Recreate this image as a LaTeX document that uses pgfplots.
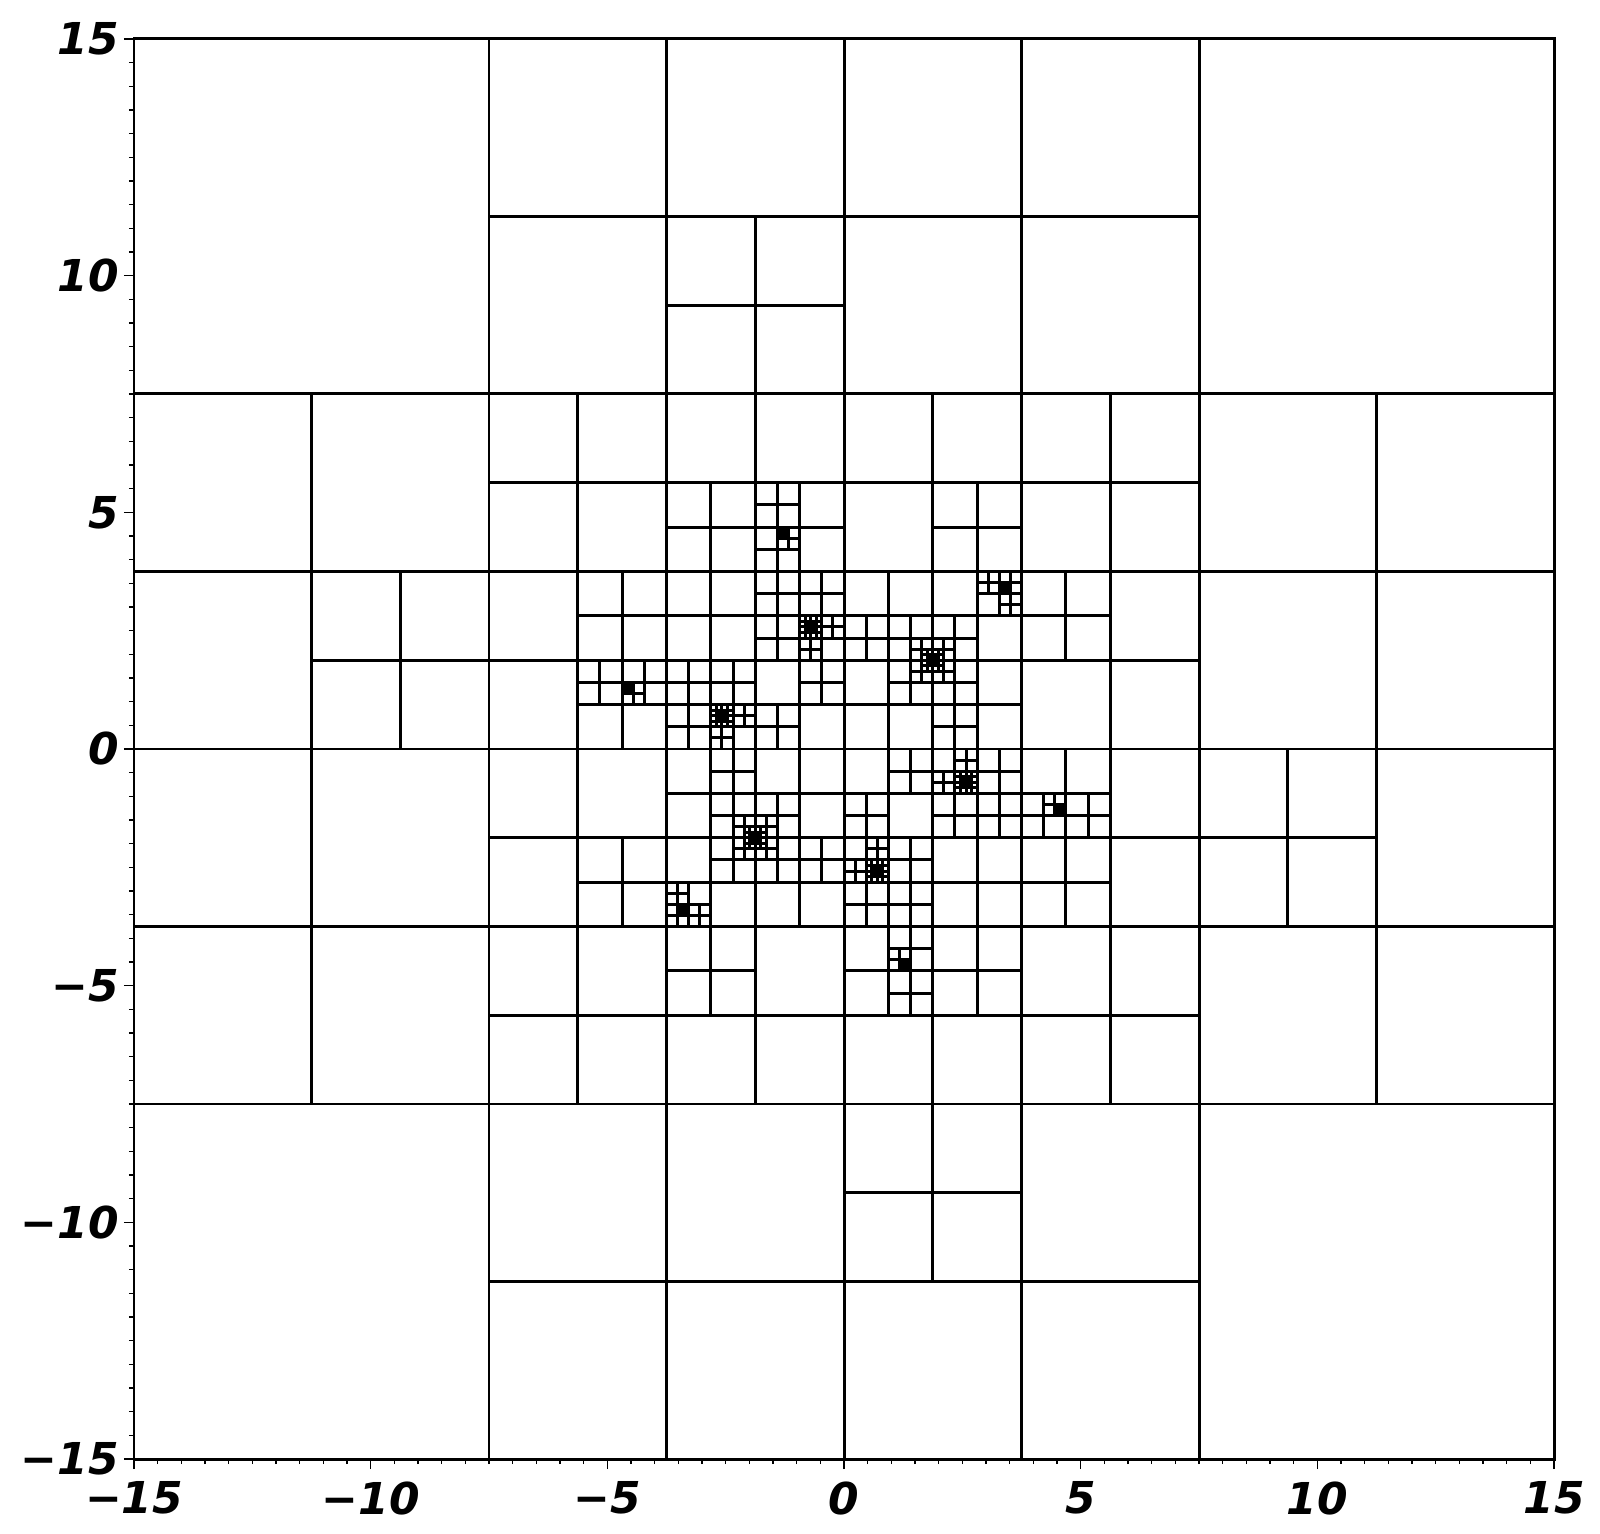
\documentclass[border=0pt]{standalone}
\usepackage{fontspec}
\setmainfont{DejaVu Sans}
\usepackage{pgfplots}
\pgfplotsset{compat=1.18}

% each row is one refined cell: centre (x,y) and half size h, drawn as a cross
\pgfplotsset{cell/.style={draw=none, no markers,
  error bars/.cd, x dir=both, x explicit, y dir=both, y explicit,
  error mark=none, error bar style={draw=black, solid, line width=0.85pt}}}

\begin{document}
\begin{tikzpicture}
\begin{axis}[
  scale only axis,
  width=142mm, height=142mm,
  xmin=-15, xmax=15, ymin=-15, ymax=15,
  xtick={-15,-10,-5,0,5,10,15},
  ytick={-15,-10,-5,0,5,10,15},
  xticklabels={−15,−10,−5,0,5,10,15},
  yticklabels={−15,−10,−5,0,5,10,15},
  minor x tick num=9, minor y tick num=9,
  xtick pos=left, ytick pos=left,
  tick align=outside,
  major tick length=1mm, minor tick length=0.5mm,
  tick style={black, line width=0.4pt},
  axis line style={line width=0.85pt},
  every axis plot/.append style={line width=0.85pt},
  tick label style={font=\fontsize{12.5}{15}\selectfont\bfseries\itshape},
  yticklabel style={xshift=0.7mm},
]

% coarse levels
\addplot[cell] table[x=x, y=y, x error=h, y error=h] {
x y h
0 0 15
-7.5 7.5 7.5
7.5 7.5 7.5
7.5 -7.5 7.5
-7.5 -7.5 7.5
-3.75 11.25 3.75
-11.25 3.75 3.75
-3.75 3.75 3.75
3.75 11.25 3.75
11.25 3.75 3.75
3.75 3.75 3.75
3.75 -11.25 3.75
11.25 -3.75 3.75
3.75 -3.75 3.75
-3.75 -11.25 3.75
-11.25 -3.75 3.75
-3.75 -3.75 3.75
-1.875 9.375 1.875
-9.375 1.875 1.875
1.875 -9.375 1.875
9.375 -1.875 1.875
-1.875 1.875 1.875
-1.875 5.625 1.875
-5.625 1.875 1.875
-5.625 5.625 1.875
1.875 1.875 1.875
1.875 5.625 1.875
5.625 1.875 1.875
5.625 5.625 1.875
1.875 -1.875 1.875
1.875 -5.625 1.875
5.625 -1.875 1.875
5.625 -5.625 1.875
-1.875 -1.875 1.875
-1.875 -5.625 1.875
-5.625 -1.875 1.875
-5.625 -5.625 1.875
};

% 1.875 cells split
\addplot[cell] table[x=x, y=y, x error=h, y error=h] {
x y h
-2.8125 4.6875 0.9375
-0.9375 4.6875 0.9375
-4.6875 2.8125 0.9375
-2.8125 2.8125 0.9375
-0.9375 2.8125 0.9375
-4.6875 0.9375 0.9375
-2.8125 0.9375 0.9375
-0.9375 0.9375 0.9375
0.9375 2.8125 0.9375
2.8125 4.6875 0.9375
2.8125 2.8125 0.9375
4.6875 2.8125 0.9375
2.8125 0.9375 0.9375
0.9375 0.9375 0.9375
2.8125 -4.6875 0.9375
0.9375 -4.6875 0.9375
4.6875 -2.8125 0.9375
2.8125 -2.8125 0.9375
0.9375 -2.8125 0.9375
4.6875 -0.9375 0.9375
2.8125 -0.9375 0.9375
0.9375 -0.9375 0.9375
-0.9375 -2.8125 0.9375
-2.8125 -4.6875 0.9375
-2.8125 -2.8125 0.9375
-4.6875 -2.8125 0.9375
-2.8125 -0.9375 0.9375
-0.9375 -0.9375 0.9375
};

% 0.9375 cells split
\addplot[cell] table[x=x, y=y, x error=h, y error=h] {
x y h
-1.40625 5.15625 0.46875
-1.40625 4.21875 0.46875
-5.15625 1.40625 0.46875
-4.21875 1.40625 0.46875
-1.40625 3.28125 0.46875
-0.46875 3.28125 0.46875
-1.40625 2.34375 0.46875
-0.46875 2.34375 0.46875
-3.28125 1.40625 0.46875
-3.28125 0.46875 0.46875
-2.34375 1.40625 0.46875
-2.34375 0.46875 0.46875
-0.46875 1.40625 0.46875
-1.40625 0.46875 0.46875
0.46875 2.34375 0.46875
1.40625 2.34375 0.46875
2.34375 0.46875 0.46875
2.34375 1.40625 0.46875
3.28125 3.28125 0.46875
2.34375 2.34375 0.46875
1.40625 1.40625 0.46875
1.40625 -5.15625 0.46875
1.40625 -4.21875 0.46875
5.15625 -1.40625 0.46875
4.21875 -1.40625 0.46875
1.40625 -3.28125 0.46875
0.46875 -3.28125 0.46875
1.40625 -2.34375 0.46875
0.46875 -2.34375 0.46875
3.28125 -1.40625 0.46875
3.28125 -0.46875 0.46875
2.34375 -1.40625 0.46875
2.34375 -0.46875 0.46875
0.46875 -1.40625 0.46875
1.40625 -0.46875 0.46875
-0.46875 -2.34375 0.46875
-1.40625 -2.34375 0.46875
-2.34375 -0.46875 0.46875
-2.34375 -1.40625 0.46875
-3.28125 -3.28125 0.46875
-2.34375 -2.34375 0.46875
-1.40625 -1.40625 0.46875
};

% 0.46875 cells split
\addplot[cell] table[x=x, y=y, x error=h, y error=h] {
x y h
-1.171875 4.453125 0.234375
-4.453125 1.171875 0.234375
-0.703125 2.578125 0.234375
-0.234375 2.578125 0.234375
-0.703125 2.109375 0.234375
-2.578125 0.703125 0.234375
-2.578125 0.234375 0.234375
-2.109375 0.703125 0.234375
3.046875 3.515625 0.234375
3.515625 3.515625 0.234375
3.515625 3.046875 0.234375
2.109375 2.109375 0.234375
1.640625 2.109375 0.234375
2.109375 1.640625 0.234375
1.640625 1.640625 0.234375
1.171875 -4.453125 0.234375
4.453125 -1.171875 0.234375
0.703125 -2.578125 0.234375
0.234375 -2.578125 0.234375
0.703125 -2.109375 0.234375
2.578125 -0.703125 0.234375
2.578125 -0.234375 0.234375
2.109375 -0.703125 0.234375
-3.046875 -3.515625 0.234375
-3.515625 -3.515625 0.234375
-3.515625 -3.046875 0.234375
-2.109375 -2.109375 0.234375
-1.640625 -2.109375 0.234375
-2.109375 -1.640625 0.234375
-1.640625 -1.640625 0.234375
};

% finest cells round the twelve centres
\addplot[cell] table[x=x, y=y, x error=h, y error=h] {
x y h
-1.2890625 4.5703125 0.1171875
-4.5703125 1.2890625 0.1171875
-0.8203125 2.6953125 0.1171875
-0.5859375 2.6953125 0.1171875
-0.8203125 2.4609375 0.1171875
-0.5859375 2.4609375 0.1171875
-2.6953125 0.8203125 0.1171875
-2.6953125 0.5859375 0.1171875
-2.4609375 0.8203125 0.1171875
-2.4609375 0.5859375 0.1171875
3.3984375 3.3984375 0.1171875
1.7578125 1.7578125 0.1171875
1.9921875 1.7578125 0.1171875
1.7578125 1.9921875 0.1171875
1.9921875 1.9921875 0.1171875
1.2890625 -4.5703125 0.1171875
4.5703125 -1.2890625 0.1171875
0.8203125 -2.6953125 0.1171875
0.5859375 -2.6953125 0.1171875
0.8203125 -2.4609375 0.1171875
0.5859375 -2.4609375 0.1171875
2.6953125 -0.8203125 0.1171875
2.6953125 -0.5859375 0.1171875
2.4609375 -0.8203125 0.1171875
2.4609375 -0.5859375 0.1171875
-3.3984375 -3.3984375 0.1171875
-1.7578125 -1.7578125 0.1171875
-1.9921875 -1.7578125 0.1171875
-1.7578125 -1.9921875 0.1171875
-1.9921875 -1.9921875 0.1171875
-1.34765625 4.62890625 0.05859375
-1.23046875 4.62890625 0.05859375
-1.34765625 4.51171875 0.05859375
-1.23046875 4.51171875 0.05859375
-4.62890625 1.34765625 0.05859375
-4.62890625 1.23046875 0.05859375
-4.51171875 1.34765625 0.05859375
-4.51171875 1.23046875 0.05859375
-0.76171875 2.63671875 0.05859375
-0.64453125 2.63671875 0.05859375
-0.76171875 2.51953125 0.05859375
-0.64453125 2.51953125 0.05859375
-2.63671875 0.76171875 0.05859375
-2.51953125 0.76171875 0.05859375
-2.63671875 0.64453125 0.05859375
-2.51953125 0.64453125 0.05859375
3.33984375 3.33984375 0.05859375
3.45703125 3.33984375 0.05859375
3.33984375 3.45703125 0.05859375
3.45703125 3.45703125 0.05859375
1.81640625 1.81640625 0.05859375
1.93359375 1.81640625 0.05859375
1.81640625 1.93359375 0.05859375
1.93359375 1.93359375 0.05859375
1.34765625 -4.62890625 0.05859375
1.23046875 -4.62890625 0.05859375
1.34765625 -4.51171875 0.05859375
1.23046875 -4.51171875 0.05859375
4.62890625 -1.34765625 0.05859375
4.62890625 -1.23046875 0.05859375
4.51171875 -1.34765625 0.05859375
4.51171875 -1.23046875 0.05859375
0.76171875 -2.63671875 0.05859375
0.64453125 -2.63671875 0.05859375
0.76171875 -2.51953125 0.05859375
0.64453125 -2.51953125 0.05859375
2.63671875 -0.76171875 0.05859375
2.51953125 -0.76171875 0.05859375
2.63671875 -0.64453125 0.05859375
2.51953125 -0.64453125 0.05859375
-3.33984375 -3.33984375 0.05859375
-3.45703125 -3.33984375 0.05859375
-3.33984375 -3.45703125 0.05859375
-3.45703125 -3.45703125 0.05859375
-1.81640625 -1.81640625 0.05859375
-1.93359375 -1.81640625 0.05859375
-1.81640625 -1.93359375 0.05859375
-1.93359375 -1.93359375 0.05859375
-0.732421875 2.607421875 0.029296875
-0.673828125 2.607421875 0.029296875
-0.732421875 2.548828125 0.029296875
-0.673828125 2.548828125 0.029296875
-2.607421875 0.732421875 0.029296875
-2.548828125 0.732421875 0.029296875
-2.607421875 0.673828125 0.029296875
-2.548828125 0.673828125 0.029296875
1.845703125 1.845703125 0.029296875
1.904296875 1.845703125 0.029296875
1.845703125 1.904296875 0.029296875
1.904296875 1.904296875 0.029296875
0.732421875 -2.607421875 0.029296875
0.673828125 -2.607421875 0.029296875
0.732421875 -2.548828125 0.029296875
0.673828125 -2.548828125 0.029296875
2.607421875 -0.732421875 0.029296875
2.548828125 -0.732421875 0.029296875
2.607421875 -0.673828125 0.029296875
2.548828125 -0.673828125 0.029296875
-1.845703125 -1.845703125 0.029296875
-1.904296875 -1.845703125 0.029296875
-1.845703125 -1.904296875 0.029296875
-1.904296875 -1.904296875 0.029296875
};

\end{axis}
\path (current axis.south west) ++(-13.4mm,-7.4mm) coordinate (bl);
\path (current axis.north east) ++(4.6mm,3.9mm) coordinate (tr);
\path (bl) rectangle (tr);
\end{tikzpicture}
\end{document}
